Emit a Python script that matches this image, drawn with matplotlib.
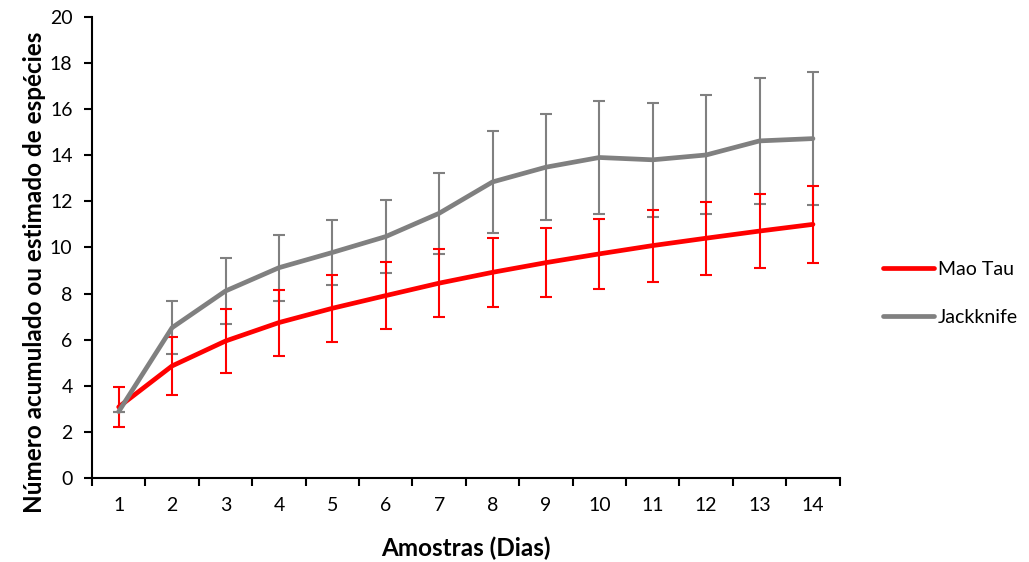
import numpy as np
import matplotlib
matplotlib.use("Agg")
import matplotlib.pyplot as plt
from matplotlib.ticker import MultipleLocator, FixedLocator

plt.rcParams["font.family"] = ["Lato", "DejaVu Sans"]

dias = np.arange(1, 15)
mao_tau = [3.08, 4.86, 5.94, 6.74, 7.36, 7.91, 8.45, 8.92, 9.34, 9.72, 10.08, 10.40, 10.71, 11.00]
mao_tau_err = [0.88, 1.26, 1.39, 1.43, 1.45, 1.45, 1.47, 1.49, 1.50, 1.53, 1.56, 1.59, 1.62, 1.66]
jackknife = [2.88, 6.52, 8.11, 9.12, 9.78, 10.47, 11.48, 12.84, 13.48, 13.90, 13.80, 14.01, 14.62, 14.72]
jackknife_err = [0.0, 1.14, 1.45, 1.44, 1.43, 1.59, 1.76, 2.20, 2.31, 2.45, 2.47, 2.58, 2.74, 2.87]

red = "#FF0000"
gray = "#808080"

fig = plt.figure(figsize=(10.29, 5.62), dpi=100)
ax = fig.add_axes([0.0894, 0.1495, 0.7266, 0.8205])

ax.errorbar(dias, jackknife, yerr=jackknife_err, color=gray, lw=0, elinewidth=1.5,
            capsize=4, capthick=1.5, zorder=2)
ax.errorbar(dias, mao_tau, yerr=mao_tau_err, color=red, lw=0, elinewidth=1.5,
            capsize=4, capthick=1.5, zorder=2)
ax.plot(dias, mao_tau, color=red, lw=3.4, solid_capstyle="round", label="Mao Tau", zorder=3)
ax.plot(dias, jackknife, color=gray, lw=3.4, solid_capstyle="round", label="Jackknife", zorder=3)

ax.set_xlim(0.5, 14.5)
ax.set_ylim(0, 20)
ax.yaxis.set_major_locator(MultipleLocator(2))
ax.set_xticks(dias)
ax.xaxis.set_minor_locator(FixedLocator(np.arange(0.5, 15, 1)))
ax.tick_params(axis="x", which="major", length=0, labelsize=14, pad=14)
ax.tick_params(axis="x", which="minor", length=6, width=1.5, direction="out")
ax.tick_params(axis="y", length=6, width=1.5, direction="out", labelsize=14, pad=8)

for s in ["top", "right"]:
    ax.spines[s].set_visible(False)
for s in ["left", "bottom"]:
    ax.spines[s].set_linewidth(1.5)

ax.set_xlabel("Amostras (Dias)", fontsize=17.5, fontweight="bold")
ax.set_ylabel("Número acumulado ou estimado de espécies", fontsize=17.5, fontweight="bold")
ax.xaxis.set_label_coords(0.5, -0.128)
ax.yaxis.set_label_coords(-0.062, 0.447)

ax.legend(loc="center left", bbox_to_anchor=(1.035, 0.40), frameon=False, fontsize=14,
          handlelength=2.6, handletextpad=0.2, labelspacing=1.6)

fig.savefig("out.png", dpi=100)
